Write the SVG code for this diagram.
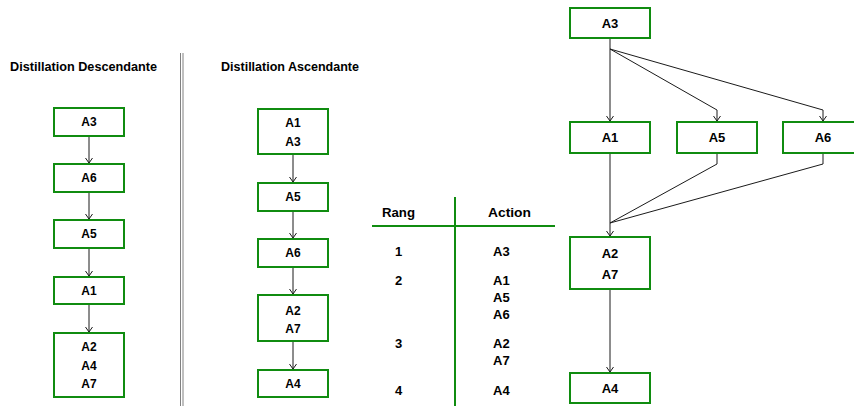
<svg xmlns="http://www.w3.org/2000/svg" width="854" height="406" viewBox="0 0 854 406">
  <style>
    .box { fill: #ffffff; stroke: #108c10; stroke-width: 2; }
    .lbl { font-family: "Liberation Sans", Arial, sans-serif; font-weight: bold; font-size: 12px; fill: #000000; }
    .big { font-size: 13px; }
    .mid { text-anchor: middle; }
    .edge { fill: none; stroke: #1a1a1a; stroke-width: 1; }
    .rule { stroke: #108c10; stroke-width: 2; }
    .sep { stroke: #808080; stroke-width: 1; }
  </style>
  <defs>
    <!-- open V arrowhead, tip at the path end -->
    <marker id="arrow" viewBox="-7 -5 8 10" markerWidth="8" markerHeight="10" refX="0" refY="0" orient="auto" markerUnits="userSpaceOnUse" overflow="visible">
      <path d="M-5,-3.5 L0,0 L-5,3.5" fill="none" stroke="#1a1a1a" stroke-width="1"/>
    </marker>
  </defs>
  <rect width="854" height="406" fill="#ffffff"/>

  <!-- headings -->
  <text class="lbl" x="10" y="71" textLength="147" lengthAdjust="spacingAndGlyphs">Distillation Descendante</text>
  <text class="lbl" x="221" y="71" textLength="138" lengthAdjust="spacingAndGlyphs">Distillation Ascendante</text>

  <!-- double separator -->
  <line class="sep" x1="180.5" y1="53" x2="180.5" y2="406"/>
  <line class="sep" x1="183" y1="53" x2="183" y2="406"/>

  <!-- connectors -->
  <g id="connectors">
    <!-- descending column -->
    <line class="edge" x1="89" y1="136" x2="89" y2="163" marker-end="url(#arrow)"/>
    <line class="edge" x1="89" y1="192" x2="89" y2="219" marker-end="url(#arrow)"/>
    <line class="edge" x1="89" y1="248" x2="89" y2="276" marker-end="url(#arrow)"/>
    <line class="edge" x1="89" y1="304" x2="89" y2="332" marker-end="url(#arrow)"/>
    <!-- ascending column -->
    <line class="edge" x1="293" y1="154" x2="293" y2="182" marker-end="url(#arrow)"/>
    <line class="edge" x1="293" y1="211" x2="293" y2="238" marker-end="url(#arrow)"/>
    <line class="edge" x1="293" y1="267" x2="293" y2="294" marker-end="url(#arrow)"/>
    <line class="edge" x1="293" y1="341" x2="293" y2="369" marker-end="url(#arrow)"/>
    <!-- final graph -->
    <line class="edge" x1="610" y1="38" x2="610" y2="121" marker-end="url(#arrow)"/>
    <polyline class="edge" points="610,49 717,110 717,121" marker-end="url(#arrow)"/>
    <polyline class="edge" points="610,49 823,110 823,121" marker-end="url(#arrow)"/>
    <line class="edge" x1="610" y1="153" x2="610" y2="236" marker-end="url(#arrow)"/>
    <polyline class="edge" points="717,153 717,164 610,223"/>
    <polyline class="edge" points="823,153 823,164 610,223"/>
    <line class="edge" x1="610" y1="289" x2="610" y2="372" marker-end="url(#arrow)"/>
  </g>

  <!-- descending distillation -->
  <g id="d-a3"><rect class="box" x="54" y="108" width="70" height="28"/><text class="lbl mid" x="89" y="126">A3</text></g>
  <g id="d-a6"><rect class="box" x="54" y="164" width="70" height="28"/><text class="lbl mid" x="89" y="182">A6</text></g>
  <g id="d-a5"><rect class="box" x="54" y="220" width="70" height="28"/><text class="lbl mid" x="89" y="238">A5</text></g>
  <g id="d-a1"><rect class="box" x="54" y="277" width="70" height="27"/><text class="lbl mid" x="89" y="295">A1</text></g>
  <g id="d-a2a4a7"><rect class="box" x="54" y="333" width="70" height="64"/>
    <text class="lbl mid" x="89" y="351">A2</text><text class="lbl mid" x="89" y="370">A4</text><text class="lbl mid" x="89" y="388">A7</text></g>

  <!-- ascending distillation -->
  <g id="a-a1a3"><rect class="box" x="258" y="109" width="70" height="45"/>
    <text class="lbl mid" x="293" y="127">A1</text><text class="lbl mid" x="293" y="146">A3</text></g>
  <g id="a-a5"><rect class="box" x="258" y="183" width="70" height="28"/><text class="lbl mid" x="293" y="201">A5</text></g>
  <g id="a-a6"><rect class="box" x="258" y="239" width="70" height="28"/><text class="lbl mid" x="293" y="257">A6</text></g>
  <g id="a-a2a7"><rect class="box" x="258" y="295" width="70" height="46"/>
    <text class="lbl mid" x="293" y="315">A2</text><text class="lbl mid" x="293" y="333">A7</text></g>
  <g id="a-a4"><rect class="box" x="258" y="370" width="70" height="27"/><text class="lbl mid" x="293" y="388">A4</text></g>

  <!-- ranking table -->
  <g id="table">
    <line class="rule" x1="455" y1="197" x2="455" y2="406"/>
    <line class="rule" x1="372" y1="226" x2="555" y2="226"/>
    <text class="lbl big" x="382" y="217" textLength="33" lengthAdjust="spacingAndGlyphs">Rang</text>
    <text class="lbl big" x="488" y="217" textLength="43" lengthAdjust="spacingAndGlyphs">Action</text>
    <text class="lbl big" x="395" y="256">1</text>
    <text class="lbl big" x="493" y="256">A3</text>
    <text class="lbl big" x="395" y="285">2</text>
    <text class="lbl big" x="493" y="285">A1</text>
    <text class="lbl big" x="493" y="302">A5</text>
    <text class="lbl big" x="493" y="319">A6</text>
    <text class="lbl big" x="395" y="348">3</text>
    <text class="lbl big" x="493" y="348">A2</text>
    <text class="lbl big" x="493" y="365">A7</text>
    <text class="lbl big" x="395" y="395">4</text>
    <text class="lbl big" x="493" y="395">A4</text>
  </g>

  <!-- final ranking graph -->
  <g id="g-a3"><rect class="box" x="570" y="8" width="80" height="30"/><text class="lbl big mid" x="610" y="28">A3</text></g>
  <g id="g-a1"><rect class="box" x="570" y="122" width="80" height="31"/><text class="lbl big mid" x="610" y="142">A1</text></g>
  <g id="g-a5"><rect class="box" x="677" y="122" width="80" height="31"/><text class="lbl big mid" x="717" y="142">A5</text></g>
  <g id="g-a6"><rect class="box" x="783" y="122" width="80" height="31"/><text class="lbl big mid" x="823" y="142">A6</text></g>
  <g id="g-a2a7"><rect class="box" x="570" y="237" width="80" height="52"/>
    <text class="lbl big mid" x="610" y="258">A2</text><text class="lbl big mid" x="610" y="279">A7</text></g>
  <g id="g-a4"><rect class="box" x="570" y="373" width="80" height="30"/><text class="lbl big mid" x="610" y="393">A4</text></g>
</svg>
